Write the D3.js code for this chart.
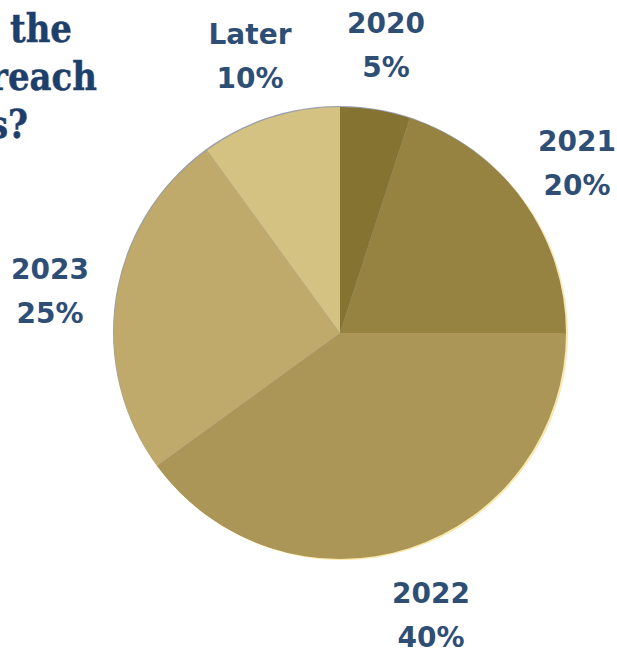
<!DOCTYPE html>
<html>
<head>
<meta charset="utf-8">
<script src="https://cdn.jsdelivr.net/npm/d3@7"></script>
<style>
	body{margin:0;background:#fff}
	svg{display:block}
</style>
</head>
<body>
<svg id="chart" width="617" height="651"></svg>
<script>
// slices go clockwise from 12 o'clock
const years = ["2020", "2021", "2022", "2023", "Later"]
const shares = [5, 20, 40, 25, 10]
const colors = ["#857331", "#978341", "#ab9657", "#bfaa6b", "#d3c282"]
// where each label sits (centre of text block)
const labelPos = [[386, 33], [577, 151], [431, 603], [50, 279], [250, 44]]
const titleLines = ["the", "reach", "s?"]

const svg = d3.select("#chart")
const cx = 340, cy = 333, r = 226

// clipped title at top left, squeezed a bit
const sx = 0.85
svg.append("g")
	.attr("transform", `scale(${sx},1)`)
	.selectAll("text")
	.data(titleLines)
	.join("text")
	  .attr("x", (d,i)=>[72, 97, 28][i]/sx)
	  .attr("y", (d,i)=>42+i*48)
	  .attr("text-anchor", "end")
	  .attr("font-family", "'DejaVu Serif', serif")
	  .attr("font-weight", "bold")
	  .attr("font-size", 40)
	  .attr("fill", "#1f3f6b")
	  .attr("stroke", "#1f3f6b")
	  .attr("stroke-width", 0.5)
	  .text(d=>d)

const pie = d3.pie().sort(null).value(d=>d)
const arc = d3.arc().innerRadius(0).outerRadius(r)

const g = svg.append("g").attr("transform", `translate(${cx},${cy})`)

// pale glow on the right side
g.append("circle")
	.attr("cx", 2).attr("cy", 1).attr("r", r)
	.attr("fill", "#fbe9a6")
g.append("circle")
	.attr("cx", -1).attr("cy", -1).attr("r", r)
	.attr("fill", "#9aa0b0")

g.selectAll("path")
	.data(pie(shares))
	.join("path")
	  .attr("d", arc)
	  .attr("fill", (d,i)=>colors[i])

const labels = svg.append("g")
	.selectAll("text")
	.data(years)
	.join("text")
	  .attr("x", (d,i)=>labelPos[i][0])
	  .attr("y", (d,i)=>labelPos[i][1])
	  .attr("text-anchor", "middle")
	  .attr("font-family", "'DejaVu Sans', sans-serif")
	  .attr("font-weight", "bold")
	  .attr("font-size", 28)
	  .attr("fill", "#2f4e74")
labels.append("tspan").text(d=>d)
labels.append("tspan")
	.attr("x", (d,i)=>labelPos[i][0])
	.attr("dy", 44)
	.text((d,i)=>shares[i]+"%")
</script>
</body>
</html>
